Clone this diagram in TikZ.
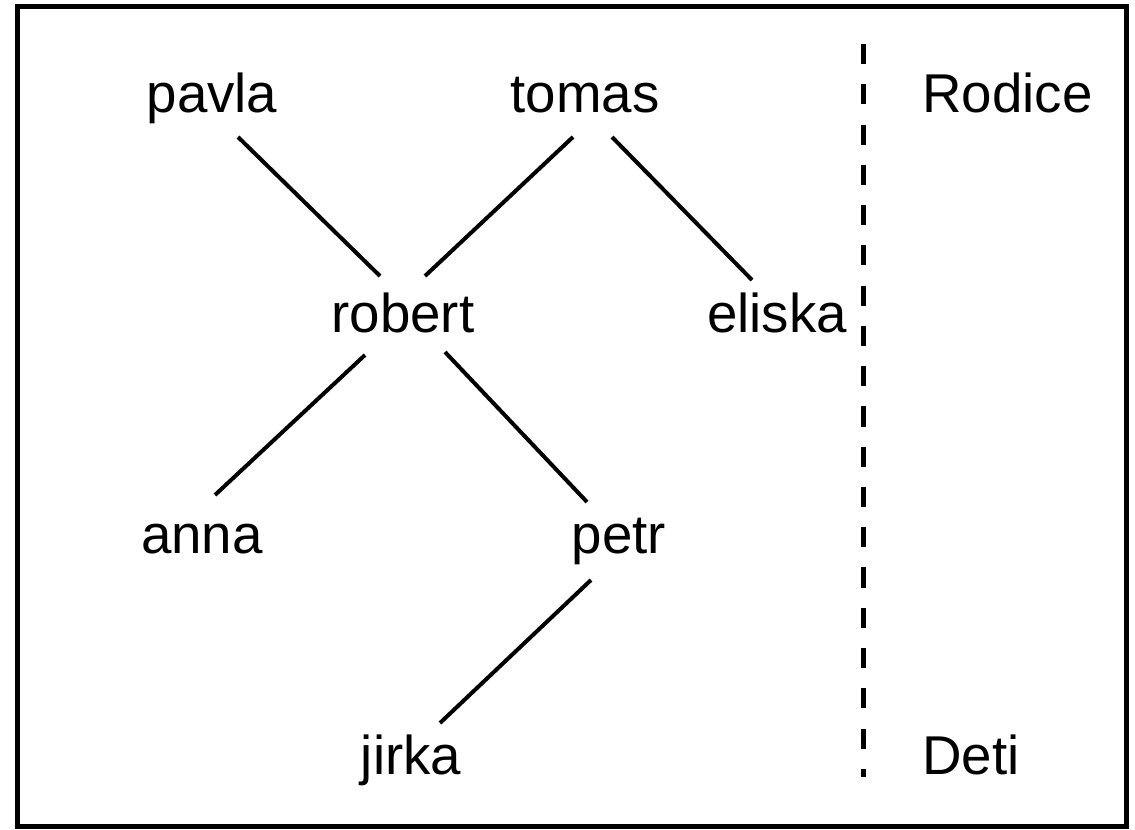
\documentclass[tikz,border=0pt]{standalone}
\usepackage{fontspec}
\setmainfont{Liberation Sans}
\usetikzlibrary{calc}
\begin{document}
\begin{tikzpicture}[x=0.75pt,y=-0.75pt,
  person/.style={anchor=base,inner sep=0pt,font=\fontsize{41}{49}\selectfont},
  sidelabel/.style={anchor=base west,inner sep=0pt,font=\fontsize{41}{49}\selectfont},
  link/.style={line width=3pt}]
\useasboundingbox (0,0) rectangle (1135,829);
\draw[line width=3.75pt] (17.5,6.5) rectangle (1126,826.5);
\node[person] (pavla) at (212,112) {pavla};
\node[person] (tomas) at (585,112) {tomas};
\node[person] (robert) at (403,332) {robert};
\node[person] (eliska) at (777,332) {eliska};
\node[person] (anna) at (202,553) {anna};
\node[person] (petr) at (619,553) {petr};
\node[person] (jirka) at (411,774) {jirka};
\node[sidelabel] (rodice) at (922,112) {Rodice};
\node[sidelabel] (deti) at (922,774) {Deti};
\coordinate (dtop) at (863,44);
\coordinate (dbot) at (863,777);
\draw[line width=3.75pt,dash pattern=on 15.1pt off 15.1pt] (dtop) -- (dbot);
\draw[link] ($(pavla.base)+(26,25)$) -- ($(robert.base)+(-23,-56)$);
\draw[link] ($(tomas.base)+(-12,25)$) -- ($(robert.base)+(22,-56)$);
\draw[link] ($(tomas.base)+(27,25)$) -- ($(eliska.base)+(-25,-52)$);
\draw[link] ($(robert.base)+(-38,23)$) -- ($(anna.base)+(13,-58)$);
\draw[link] ($(robert.base)+(42,20)$) -- ($(petr.base)+(-32,-51)$);
\draw[link] ($(petr.base)+(-28,27)$) -- ($(jirka.base)+(29,-51)$);
\end{tikzpicture}
\end{document}
